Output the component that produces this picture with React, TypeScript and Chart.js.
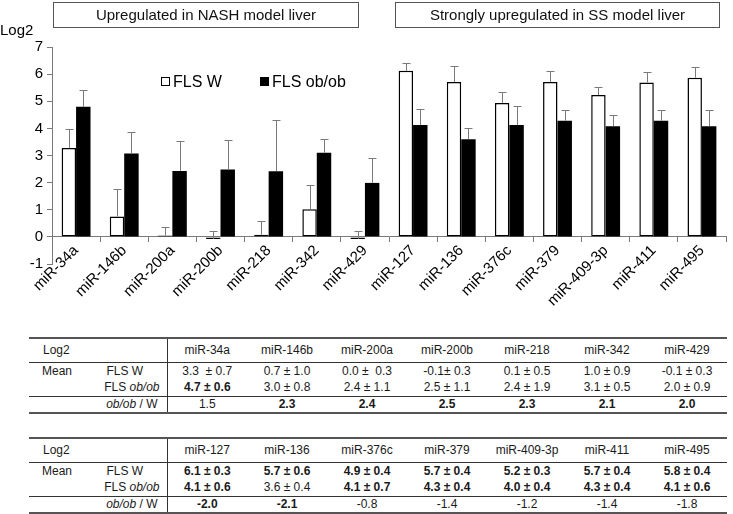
import React, { useEffect, useRef } from "react";
import { Chart, registerables } from "chart.js";
Chart.register(...registerables);

const categories = ["miR-34a", "miR-146b", "miR-200a", "miR-200b", "miR-218", "miR-342", "miR-429", "miR-127", "miR-136", "miR-376c", "miR-379", "miR-409-3p", "miR-411", "miR-495"];
const flsW = [3.28, 0.75, 0.05, -0.08, 0.08, 1.02, -0.08, 6.12, 5.71, 4.94, 5.71, 5.23, 5.69, 5.87];
const flsOb = [4.8, 3.07, 2.43, 2.48, 2.42, 3.1, 1.99, 4.12, 3.6, 4.12, 4.28, 4.08, 4.28, 4.08];
const sdW = [0.7, 1.0, 0.3, 0.3, 0.5, 0.9, 0.3, 0.3, 0.6, 0.4, 0.4, 0.3, 0.4, 0.4];
const sdOb = [0.6, 0.8, 1.1, 1.1, 1.9, 0.5, 0.9, 0.6, 0.4, 0.7, 0.4, 0.4, 0.4, 0.6];
const yMin = -1;
const yMax = 7;

const headerLeft = "Upregulated in NASH model liver";
const headerRight = "Strongly upregulated in SS model liver";

const t1Cols = ["miR-34a", "miR-146b", "miR-200a", "miR-200b", "miR-218", "miR-342", "miR-429"];
const t1W = ["3.3  ± 0.7", "0.7 ± 1.0", "0.0 ±  0.3", "-0.1± 0.3", "0.1 ± 0.5", "1.0 ± 0.9", "-0.1 ± 0.3"];
const t1WBold = [false, false, false, false, false, false, false];
const t1Ob = ["4.7 ± 0.6", "3.0 ± 0.8", "2.4 ± 1.1", "2.5 ± 1.1", "2.4 ± 1.9", "3.1 ± 0.5", "2.0 ± 0.9"];
const t1ObBold = [true, false, false, false, false, false, false];
const t1Ratio = ["1.5", "2.3", "2.4", "2.5", "2.3", "2.1", "2.0"];
const t1RatioBold = [false, true, true, true, true, true, true];

const t2Cols = ["miR-127", "miR-136", "miR-376c", "miR-379", "miR-409-3p", "miR-411", "miR-495"];
const t2W = ["6.1 ± 0.3", "5.7 ± 0.6", "4.9 ± 0.4", "5.7 ± 0.4", "5.2 ± 0.3", "5.7 ± 0.4", "5.8 ± 0.4"];
const t2WBold = [true, true, true, true, true, true, true];
const t2Ob = ["4.1 ± 0.6", "3.6 ± 0.4", "4.1 ± 0.7", "4.3 ± 0.4", "4.0 ± 0.4", "4.3 ± 0.4", "4.1 ± 0.6"];
const t2ObBold = [true, false, true, true, true, true, true];
const t2Ratio = ["-2.0", "-2.1", "-0.8", "-1.4", "-1.2", "-1.4", "-1.8"];
const t2RatioBold = [true, true, false, false, false, false, false];

const FONT = "'Liberation Sans', Arial, sans-serif";

const errorBarPlugin = {
  id: "errorBars",
  afterDatasetsDraw(chart: any) {
    const ctx = chart.ctx;
    const ys = chart.scales.y;
    const sets: [number[], number[]][] = [[flsW, sdW], [flsOb, sdOb]];
    ctx.save();
    ctx.strokeStyle = "#7a7a7a";
    ctx.lineWidth = 1;
    sets.forEach(([vals, sds], i) => {
      const meta = chart.getDatasetMeta(i);
      meta.data.forEach((bar: any, j: number) => {
        const x = Math.round(bar.x) + 0.5;
        const y0 = ys.getPixelForValue(vals[j]);
        const y1 = Math.round(ys.getPixelForValue(vals[j] + sds[j])) + 0.5;
        ctx.beginPath();
        ctx.moveTo(x, y0);
        ctx.lineTo(x, y1);
        ctx.moveTo(x - 4, y1);
        ctx.lineTo(x + 4, y1);
        ctx.stroke();
      });
    });
    ctx.restore();
  },
};

function DataTable(props: { top: number; cols: string[]; w: string[]; wBold: boolean[]; ob: string[]; obBold: boolean[]; ratio: string[]; ratioBold: boolean[] }) {
  const { top, cols, w, wBold, ob, obBold, ratio, ratioBold } = props;
  const cell: React.CSSProperties = { padding: 0, whiteSpace: "pre", textAlign: "center", overflow: "hidden" };
  const div: React.CSSProperties = { borderLeft: "1px solid #333" };
  const lineB: React.CSSProperties = { borderBottom: "1px solid #333" };
  return (
    <table
      style={{
        position: "absolute",
        left: 29,
        top,
        width: 698,
        tableLayout: "fixed",
        borderCollapse: "collapse",
        fontFamily: FONT,
        fontSize: 12,
        color: "#1a1a1a",
        borderTop: "2px solid #555",
        borderBottom: "2px solid #555",
      }}
    >
      <colgroup>
        <col style={{ width: 62 }} />
        <col style={{ width: 76 }} />
        {cols.map((c) => (
          <col key={c} style={{ width: 80 }} />
        ))}
      </colgroup>
      <tbody>
        <tr style={{ height: 24 }}>
          <td style={{ ...cell, ...lineB, textAlign: "left", paddingLeft: 14 }}>Log2</td>
          <td style={{ ...cell, ...lineB }}></td>
          {cols.map((c, i) => (
            <td key={c} style={{ ...cell, ...lineB, ...(i === 0 ? div : {}) }}>{c}</td>
          ))}
        </tr>
        <tr style={{ height: 17 }}>
          <td style={{ ...cell, textAlign: "left", paddingLeft: 13 }}>Mean</td>
          <td style={{ ...cell, paddingRight: 8 }}>FLS W</td>
          {w.map((v, i) => (
            <td key={i} style={{ ...cell, fontWeight: wBold[i] ? "bold" : "normal", ...(i === 0 ? div : {}) }}>{v}</td>
          ))}
        </tr>
        <tr style={{ height: 17 }}>
          <td style={{ ...cell, ...lineB }}></td>
          <td style={{ ...cell, ...lineB, textAlign: "right", paddingRight: 7 }}>
            FLS <i>ob/ob</i>
          </td>
          {ob.map((v, i) => (
            <td key={i} style={{ ...cell, ...lineB, fontWeight: obBold[i] ? "bold" : "normal", ...(i === 0 ? div : {}) }}>{v}</td>
          ))}
        </tr>
        <tr style={{ height: 17 }}>
          <td style={{ ...cell }}></td>
          <td style={{ ...cell, textAlign: "right", paddingRight: 9 }}>
            <i>ob/ob</i> / W
          </td>
          {ratio.map((v, i) => (
            <td key={i} style={{ ...cell, fontWeight: ratioBold[i] ? "bold" : "normal", ...(i === 0 ? div : {}) }}>{v}</td>
          ))}
        </tr>
      </tbody>
    </table>
  );
}

export default function App() {
  const ref = useRef<HTMLCanvasElement | null>(null);
  useEffect(() => {
    if (!ref.current) return;
    const chart = new Chart(ref.current, {
      type: "bar",
      data: {
        labels: categories,
        datasets: [
          { label: "FLS W", data: flsW, backgroundColor: "#ffffff", borderColor: "#000000", borderWidth: 1.5, borderSkipped: false },
          { label: "FLS ob/ob", data: flsOb, backgroundColor: "#000000", borderColor: "#000000", borderWidth: 0 },
        ],
      },
      options: {
        animation: false,
        responsive: false,
        maintainAspectRatio: false,
        datasets: { bar: { categoryPercentage: 0.6, barPercentage: 1 } },
        layout: { padding: { left: 0, top: 47, right: 7, bottom: 46 } },
        plugins: { legend: { display: false }, tooltip: { enabled: false } },
        scales: {
          x: {
            position: { y: 0 } as any,
            grid: { display: true, drawOnChartArea: false, drawTicks: true, tickLength: 5, offset: true, color: "#7a7a7a" },
            border: { display: true, color: "#7a7a7a", width: 1 },
            ticks: { minRotation: 45, maxRotation: 45, autoSkip: false, padding: 0, color: "#000", font: { family: FONT, size: 15 } },
          },
          y: {
            min: yMin,
            max: yMax,
            afterFit: (s: any) => {
              s.width = 52;
            },
            grid: { display: true, drawOnChartArea: false, drawTicks: true, tickLength: 5, color: "#7a7a7a" },
            border: { display: true, color: "#7a7a7a", width: 1 },
            ticks: { stepSize: 1, padding: 4, color: "#000", font: { family: FONT, size: 15 } },
          },
        },
      },
      plugins: [errorBarPlugin],
    });
    return () => chart.destroy();
  }, []);

  const box: React.CSSProperties = {
    position: "absolute",
    top: 2,
    height: 26,
    boxSizing: "border-box",
    border: "1px solid #555",
    fontFamily: FONT,
    fontSize: 15,
    lineHeight: "24px",
    textAlign: "center",
    color: "#111",
  };

  return (
    <div style={{ position: "absolute", left: 0, top: 0, width: 733, height: 514, background: "#fff", overflow: "hidden" }}>
      <canvas ref={ref} width={733} height={310} style={{ position: "absolute", left: 0, top: 0, width: 733, height: 310 }} />
      <div style={{ ...box, left: 53, width: 306 }}>{headerLeft}</div>
      <div style={{ ...box, left: 395, width: 325 }}>{headerRight}</div>
      <div style={{ position: "absolute", left: 0, top: 21, fontFamily: FONT, fontSize: 15, lineHeight: "18px", color: "#000" }}>Log2</div>
      <div style={{ position: "absolute", left: 161, top: 77, width: 9, height: 9, boxSizing: "border-box", border: "1.5px solid #000", background: "#fff" }} />
      <div style={{ position: "absolute", left: 173, top: 72, fontFamily: FONT, fontSize: 16, lineHeight: "20px", color: "#000" }}>FLS W</div>
      <div style={{ position: "absolute", left: 260, top: 77, width: 9, height: 9, background: "#000" }} />
      <div style={{ position: "absolute", left: 272, top: 72, fontFamily: FONT, fontSize: 16, lineHeight: "20px", color: "#000" }}>FLS ob/ob</div>
      <DataTable top={337} cols={t1Cols} w={t1W} wBold={t1WBold} ob={t1Ob} obBold={t1ObBold} ratio={t1Ratio} ratioBold={t1RatioBold} />
      <DataTable top={437} cols={t2Cols} w={t2W} wBold={t2WBold} ob={t2Ob} obBold={t2ObBold} ratio={t2Ratio} ratioBold={t2RatioBold} />
    </div>
  );
}
